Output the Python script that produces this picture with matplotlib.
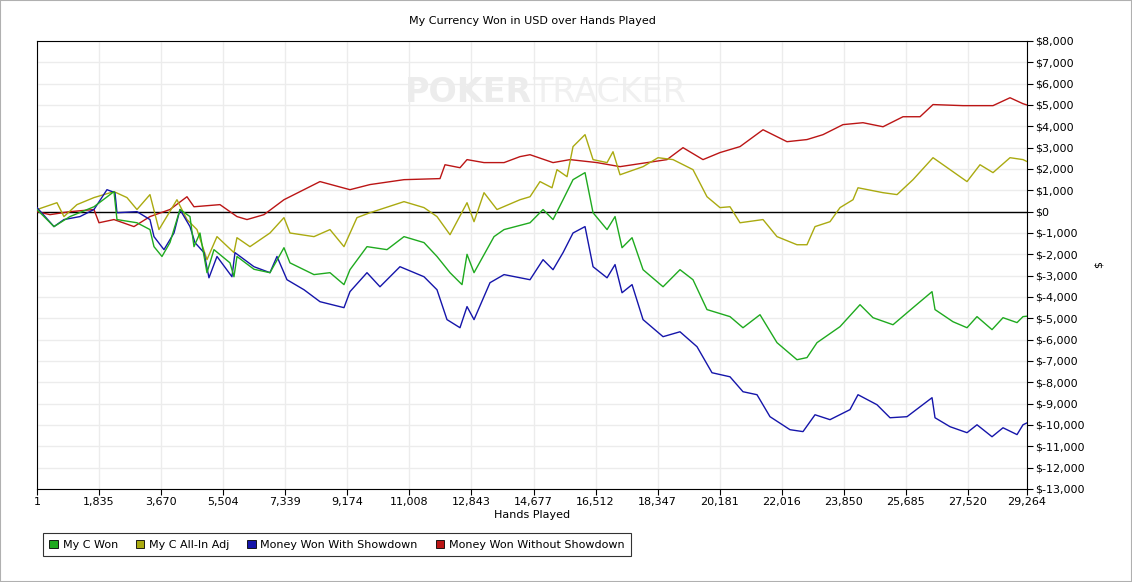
import matplotlib
matplotlib.use("Agg")
import matplotlib.pyplot as plt
from matplotlib.ticker import FuncFormatter
from matplotlib.patches import Patch

green_h = [1,503,975,1685,2276,2365,2956,3340,3459,3695,3931,4227,4523,4641,4818,5025,5232,5705,5823,5912,6414,6887,7301,7479,8188,8661,9075,9252,9755,10346,10849,11440,11824,12209,12564,12712,12919,13510,13806,14574,14959,15254,15550,15845,16200,16437,16851,17087,17294,17590,17915,18506,19007,19391,19805,20485,20869,21372,21874,22465,22761,23057,23737,24328,24712,25303,25895,26457,26545,27077,27491,27786,28230,28555,28969,29146,29264]
green_v = [100,-700,-230,230,940,-370,-520,-840,-1640,-2100,-1450,100,-230,-1640,-1000,-2860,-1780,-2400,-3050,-2100,-2700,-2860,-1690,-2400,-2950,-2860,-3420,-2720,-1640,-1780,-1170,-1450,-2100,-2860,-3420,-2000,-2860,-1170,-840,-520,100,-370,560,1500,1830,-50,-840,-230,-1690,-1220,-2720,-3520,-2720,-3190,-4590,-4920,-5440,-4830,-6140,-6940,-6840,-6140,-5390,-4360,-4970,-5300,-4500,-3750,-4590,-5160,-5440,-4920,-5530,-4970,-5200,-4920,-4900]

blue_h = [1,503,798,1271,1685,2069,2306,2365,2956,3340,3459,3754,4050,4227,4523,4670,4937,5084,5321,5764,5853,6414,6887,7094,7390,7893,8366,9075,9252,9755,10139,10730,11440,11824,12120,12504,12712,12919,13391,13806,14574,14959,15254,15550,15845,16200,16437,16851,17087,17294,17590,17915,18506,19007,19510,19953,20485,20869,21283,21667,22258,22643,22998,23441,24032,24269,24830,25215,25717,26457,26545,26989,27491,27786,28230,28555,28969,29146,29264]
blue_v = [190,-700,-370,-230,100,1030,890,-50,0,-370,-1170,-1780,-1000,100,-700,-1450,-1920,-3100,-2100,-3050,-1920,-2580,-2860,-2100,-3190,-3660,-4220,-4500,-3750,-2860,-3520,-2580,-3050,-3660,-5060,-5440,-4450,-5060,-3330,-2950,-3190,-2250,-2720,-1920,-1000,-700,-2580,-3100,-2480,-3800,-3420,-5060,-5860,-5630,-6330,-7550,-7740,-8440,-8580,-9610,-10220,-10310,-9520,-9750,-9280,-8580,-9050,-9660,-9610,-8720,-9660,-10080,-10360,-9990,-10550,-10130,-10450,-9990,-9900]

yellow_h = [1,591,798,1182,1685,2276,2660,2956,3340,3606,4138,4434,4730,5025,5321,5823,5912,6296,6887,7301,7479,8188,8661,9075,9459,9843,10849,11440,11824,12209,12712,12919,13214,13598,14278,14574,14869,15224,15371,15668,15845,16200,16437,16851,17027,17234,17915,18358,18801,19391,19805,20189,20485,20781,21461,21874,22465,22761,22998,23441,23737,24121,24269,25008,25422,25895,26486,26989,27491,27875,28259,28762,29146,29264]
yellow_v = [100,420,-230,330,660,940,660,100,800,-840,560,-370,-840,-2250,-1170,-1920,-1220,-1640,-1000,-280,-1000,-1170,-840,-1640,-280,-50,470,190,-230,-1080,420,-470,890,100,560,700,1410,1120,1970,1640,3050,3610,2440,2300,2810,1730,2110,2530,2440,1970,700,190,230,-520,-370,-1170,-1550,-1550,-700,-470,190,560,1120,890,800,1500,2530,1970,1410,2200,1830,2530,2440,2350]

red_h = [1,384,975,1685,1833,2276,2867,3340,3931,4434,4641,5409,5912,6208,6710,7301,8366,9252,9843,10849,11913,12061,12504,12712,13214,13806,14278,14574,15254,15756,16554,17234,18032,18623,19096,19687,20189,20781,21461,22170,22761,23234,23825,24416,25008,25599,26102,26486,27372,28259,28762,29146,29264]
red_v = [0,-140,0,100,-520,-370,-700,-230,100,700,230,330,-230,-370,-140,560,1410,1030,1270,1500,1550,2200,2060,2440,2300,2300,2580,2670,2300,2440,2300,2110,2300,2440,3000,2440,2770,3050,3840,3280,3380,3610,4080,4170,3980,4450,4450,5020,4970,4970,5340,5060,5000]

x_ticks = [1,1835,3670,5504,7339,9174,11008,12843,14677,16512,18347,20181,22016,23850,25685,27520,29264]
y_ticks = list(range(-13000, 8001, 1000))

fig = plt.figure(figsize=(11.32, 5.82), dpi=100)
fig.patch.set_facecolor("white")
fig.patches.append(plt.Rectangle((0, 0), 1, 1, transform=fig.transFigure, fill=False,
                                 edgecolor="#b0b0b0", linewidth=1.5))
ax = fig.add_axes([37/1132, 1-489/582, 990/1132, 448/582])
ax.set_xlim(1, 29264)
ax.set_ylim(-13000, 8000)
ax.set_xticks(x_ticks)
ax.set_xticklabels([f"{t:,}" for t in x_ticks])
ax.set_yticks(y_ticks)
ax.yaxis.set_major_formatter(FuncFormatter(lambda v, p: "$" + f"{int(v):,}"))
ax.yaxis.tick_right()
ax.yaxis.set_label_position("right")
ax.tick_params(labelsize=8, length=4, pad=2)
ax.grid(True, color="#ececec", linewidth=1)
ax.set_axisbelow(True)
ax.axhline(0, color="black", linewidth=1, zorder=2)

ax.text(0.5, 0.885, "POKER", transform=ax.transAxes, ha="right", va="center",
        fontsize=24, fontweight="bold", color="#ececec", zorder=0)
ax.text(0.5, 0.885, "TRACKER", transform=ax.transAxes, ha="left", va="center",
        fontsize=24, color="#f0f0f0", zorder=0)

c_green, c_yellow, c_blue, c_red = "#1faa1f", "#aaaa10", "#1515aa", "#bb1515"
ax.plot(red_h, red_v, color=c_red, lw=1, zorder=3)
ax.plot(yellow_h, yellow_v, color=c_yellow, lw=1, zorder=3)
ax.plot(green_h, green_v, color=c_green, lw=1, zorder=4)
ax.plot(blue_h, blue_v, color=c_blue, lw=1, zorder=3)

ax.set_title("My Currency Won in USD over Hands Played", fontsize=8, pad=12)
ax.set_xlabel("Hands Played", fontsize=8, labelpad=2)
ax.set_ylabel("$", fontsize=8, labelpad=6)

handles = [Patch(facecolor=c, edgecolor="black", linewidth=0.6) for c in (c_green, c_yellow, c_blue, c_red)]
labels = ["My C Won", "My C All-In Adj", "Money Won With Showdown", "Money Won Without Showdown"]
leg = fig.legend(handles, labels, loc="lower left", bbox_to_anchor=(37/1132, 1-562/582),
                 ncol=4, fontsize=8, frameon=True, fancybox=False, edgecolor="black",
                 handlelength=0.8, handleheight=0.8, columnspacing=1.6, handletextpad=0.4,
                 borderpad=0.6)
leg.get_frame().set_linewidth(0.8)

fig.savefig("out.png", dpi=100)
